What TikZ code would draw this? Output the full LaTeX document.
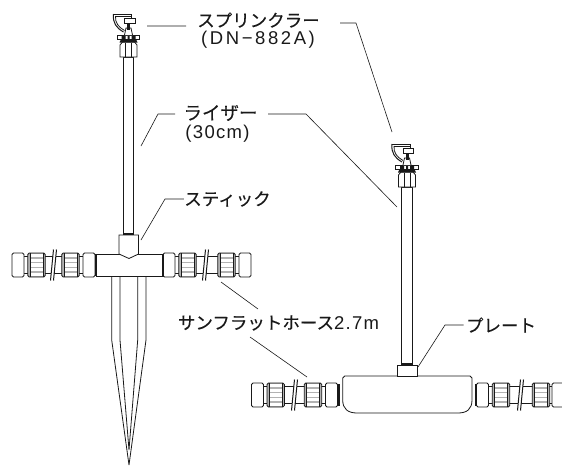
\documentclass[tikz,border=0pt]{standalone}
\usepackage{fontspec}
\setmainfont{Liberation Sans}
\newfontfamily\jpfont[FakeBold=0.25]{Noto Sans CJK JP}
\newfontfamily\latinfont[LetterSpace=14]{Liberation Sans}
\newfontfamily\unitfont[LetterSpace=7]{Liberation Sans}
\usetikzlibrary{calc}

\tikzset{
  % knurled nut on the hose
  pics/ribnut/.style={code={
    \draw[fill=black!30,rounded corners=1.5pt] (-8.7,-12) rectangle (8.7,12);
    \foreach \ry in {-9.4,-4.7,0,4.7,9.4}
      \fill[white] (-6.4,\ry-1.6) rectangle (6.4,\ry+1.6);
    \draw[line width=0.5pt] (-6.4,-12) -- (-6.4,12) (6.4,-12) -- (6.4,12);
  }},
  % plain end nut
  pics/capnut/.style={code={
    \draw[fill=white,rounded corners=1.5pt] (-6,-12) rectangle (6,12);
  }},
  % riser with the sprinkler head, origin at the bottom of the nut
  pics/sprinkler/.style={code={
    % riser
    \draw[fill=white,line width=1pt] (-5.3,0) rectangle (5.3,177);
    \fill (-5.3,175.5) rectangle (5.3,178);
    % nut
    \draw[fill=white] (-8.5,0) -- (-8.5,-12) -- (-6,-15) -- (6,-15) -- (8.5,-12) -- (8.5,0) -- cycle;
    \draw (-3,0) -- (-3,-14) (3,0) -- (3,-14);
    % flange
    \fill (-9,-14.5) -- (-7,-19) -- (7,-19) -- (9,-14.5) -- cycle;
    \draw[fill=white] (-11.3,-22) rectangle (11.3,-17.5);
    \fill (-7,-21) rectangle (-3,-18) (-1,-21) rectangle (1,-18) (3,-21) rectangle (7,-18);
    % neck and stem
    \draw[fill=white] (-4,-22) -- (-2.5,-29) -- (2.5,-29) -- (4,-22);
    \fill (-1.5,-35) rectangle (1.5,-27);
    % deflector
    \draw[fill=white,line width=1pt] (-4,-39) rectangle (6.5,-34);
    % arm
    \draw[line width=1pt] (-15,-43) -- (3,-43) -- (3,-39);
    \draw[line width=1pt] (-15,-43) .. controls (-16,-34) and (-12,-29) .. (-5,-25);
    \draw (-13,-41) -- (3,-41);
    \draw (-13,-41) .. controls (-13.5,-34) and (-10,-30) .. (-4,-26.5);
  }}
}

% hose run: y, centres of cap, rib, slash, rib, cap
\newcommand{\hoserun}[6]{
  \draw[fill=white] (#2,#1-8.5) rectangle (#6,#1+8.5);
  \draw[fill=white,draw=none] (#4-0.5,#1-15.5) -- (#4+2.5,#1-15.5) -- (#4-0.5,#1+15.5) -- (#4-3.5,#1+15.5) -- cycle;
  \draw[line width=1pt] (#4-0.5,#1-15.5) -- (#4-3.5,#1+15.5) (#4+2.5,#1-15.5) -- (#4-0.5,#1+15.5);
  \pic at (#2,#1) {capnut};
  \pic at (#3,#1) {ribnut};
  \pic at (#5,#1) {ribnut};
  \pic at (#6,#1) {capnut};
}

\begin{document}
\begin{tikzpicture}[x=1pt,y=-1pt,line width=0.8pt,black!90]
    % `label' is the kana text, `latin' the text below it.
    % `leader' is used for the thin pointer lines.
    \tikzstyle{label} = [inner sep=0pt,font=\jpfont\fontsize{17.5}{20}\selectfont]
    \tikzstyle{latin} = [inner sep=0pt,font=\latinfont\fontsize{18.5}{20}\selectfont]
    \tikzstyle{unit} = [inner sep=0pt,font=\unitfont\fontsize{18.5}{20}\selectfont]
    \tikzstyle{leader} = [line width=0.6pt]
    \tikzstyle{body} = [draw,fill=white]
    %
    \useasboundingbox (0,0) rectangle (562,466);

    % Spike with tee, left unit.
    \draw (111.7,276) -- (111.7,340) -- (129,465)
          (120,276) -- (120,340) -- (129,450)
          (137.7,276) -- (137.7,340) -- (129,450)
          (146,276) -- (146,340) -- (129,465);
    \hoserun{265}{18}{36.5}{54}{70.5}{89}
    \hoserun{265}{169}{187.5}{206}{226.5}{245}
    \draw[body] (96,254) rectangle (163,276);
    \draw[line width=1.4pt] (96,254) -- (96,276) (163,254) -- (163,276);
    \pic at (128.5,57) {sprinkler};
    \draw[body] (119,235) -- (119,254) -- (129,258.5) -- (138.5,254) -- (138.5,235) -- cycle;

    % Plate, right unit.
    \hoserun{395}{257.5}{275.7}{295}{313}{331.5}
    \hoserun{395}{482.5}{501}{521}{541}{558}
    \draw[line width=1.4pt] (339,384) -- (339,406) (475.5,384) -- (475.5,406);
    \draw[body] (342.7,378) -- (344.7,376) -- (470,376) -- (472,378) -- (472,400)
       .. controls (472,409) and (467,413) .. (458,413) -- (357,413)
       .. controls (348,413) and (342.7,409) .. (342.7,400) -- cycle;
    \pic at (407,187) {sprinkler};
    \draw[body] (397.7,365.5) rectangle (417.7,376);

    % Labels.
    \node[label] (sprname) at (258.5,20) {スプリンクラー};
    \node[latin] (sprmodel) at (258,40) {(DN−882A)};
    \node[label,font=\jpfont\fontsize{18.5}{20}\selectfont] (risername) at (220.5,113) {ライザー};
    \node[unit] (riserlen) at (217.5,134) {(30cm)};
    \node[label] (stickname) at (227.5,199) {スティック};
    \node[label] (hosename) at (278.5,323) {サンフラットホース{\unitfont\fontsize{18.5}{20}\selectfont 2.7m}};
    \node[label] (platename) at (501,325) {プレート};

    % Free ends of the pointer lines.
    \coordinate (sprL) at (147,26);
    \coordinate (sprLa) at (186,26);
    \coordinate (sprRa) at (340,23);
    \coordinate (sprRb) at (356,23);
    \coordinate (sprR) at (392,132);
    \coordinate (riserLa) at (175,114);
    \coordinate (riserLb) at (158,114);
    \coordinate (riserL) at (141,146);
    \coordinate (riserRa) at (268,114);
    \coordinate (riserRb) at (306,114);
    \coordinate (riserR) at (397,207);
    \coordinate (stickb) at (165,199);
    \coordinate (stick) at (141,240);
    \coordinate (hoseUa) at (258,309);
    \coordinate (hoseU) at (221,282);
    \coordinate (hoseDa) at (250,337);
    \coordinate (hoseD) at (307,377);
    \coordinate (plateb) at (445,325);
    \coordinate (plate) at (418,367);

    % Draw lines.
    \draw[leader] (sprL) -- (sprLa)   (sprRa) -- (sprRb) -- (sprR)
                  (riserLa) -- (riserLb) -- (riserL)
                  (riserRa) -- (riserRb) -- (riserR)
                  (stickname.west) -- (stickb) -- (stick)
                  (hoseUa) -- (hoseU)   (hoseDa) -- (hoseD);
    \draw[leader] ($(platename.west)+(-2,0)$) -- (plateb) -- (plate);
\end{tikzpicture}
\end{document}
